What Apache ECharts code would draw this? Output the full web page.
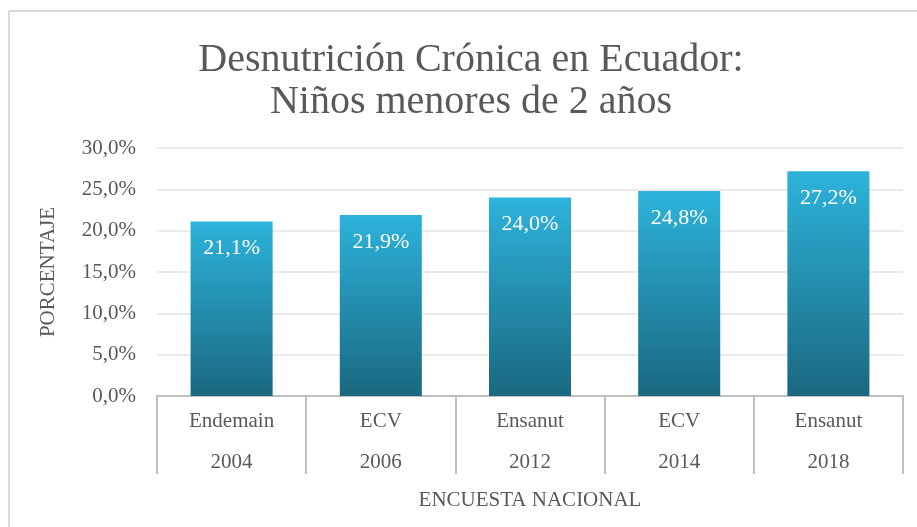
<!DOCTYPE html>
<html>
<head>
<meta charset="utf-8">
<script src="https://cdn.jsdelivr.net/npm/echarts@6/dist/echarts.min.js"></script>
<style>
html,body{margin:0;padding:0;background:#fff;}
#chart{width:917px;height:527px;}
</style>
</head>
<body>
<div id="chart"></div>
<script>
var surveys = ['Endemain', 'ECV', 'Ensanut', 'ECV', 'Ensanut'];
var years = ['2004', '2006', '2012', '2014', '2018'];
var values = [21.1, 21.9, 24.0, 24.8, 27.2];
var yTicks = [0, 5, 10, 15, 20, 25, 30];

var categories = surveys.map(function (s, i) { return s + '\n' + years[i]; });
function pct(v) { return v.toFixed(1).replace('.', ',') + '%'; }

var FONT = '"Liberation Serif", "Times New Roman", serif';
var chart = echarts.init(document.getElementById('chart'), null, {renderer: 'canvas'});
chart.setOption({
  animation: false,
  backgroundColor: '#ffffff',
  title: {
    text: 'Desnutrición Crónica en Ecuador:\nNiños menores de 2 años',
    left: 466,
    textAlign: 'center',
    top: 34,
    textStyle: {fontFamily: FONT, fontSize: 40, fontWeight: 'normal', color: '#595959', lineHeight: 42}
  },
  graphic: [
    {type: 'line', shape: {x1: 9, y1: 11, x2: 917, y2: 11}, style: {stroke: '#D9D9D9', lineWidth: 2}},
    {type: 'line', shape: {x1: 9, y1: 11, x2: 9, y2: 527}, style: {stroke: '#D9D9D9', lineWidth: 2}}
  ],
  grid: {left: 157, right: 14, top: 148, bottom: 131, containLabel: false},
  xAxis: {
    type: 'category',
    data: categories,
    boundaryGap: true,
    name: 'ENCUESTA NACIONAL',
    nameLocation: 'middle',
    nameGap: 94,
    nameTextStyle: {fontFamily: FONT, fontSize: 21, color: '#595959'},
    axisLine: {show: true, lineStyle: {color: '#BFBFBF', width: 2}},
    axisTick: {show: true, length: 78, alignWithLabel: false, interval: 0, lineStyle: {color: '#BFBFBF', width: 2}},
    axisLabel: {interval: 0, margin: 5, fontFamily: FONT, fontSize: 21, color: '#595959', lineHeight: 41}
  },
  yAxis: {
    type: 'value',
    min: yTicks[0],
    max: yTicks[yTicks.length - 1],
    interval: yTicks[1] - yTicks[0],
    name: 'PORCENTAJE',
    nameLocation: 'middle',
    nameGap: 98,
    nameRotate: 90,
    nameTextStyle: {fontFamily: FONT, fontSize: 21, color: '#595959'},
    axisLine: {show: false},
    axisTick: {show: false},
    splitLine: {lineStyle: {color: '#EBEBEB', width: 2}},
    axisLabel: {margin: 21, fontFamily: FONT, fontSize: 21, color: '#595959', formatter: function (v) { return pct(v); }}
  },
  series: [{
    type: 'bar',
    data: values,
    barWidth: '55%',
    itemStyle: {
      color: new echarts.graphic.LinearGradient(0, 0, 0, 1, [
        {offset: 0, color: '#2DB3DB'},
        {offset: 1, color: '#1A6880'}
      ]),
      borderWidth: 0
    },
    label: {
      show: true,
      position: 'insideTop',
      distance: 16,
      fontFamily: FONT,
      fontSize: 22,
      color: '#ffffff',
      formatter: function (p) { return pct(p.value); }
    }
  }]
});
</script>
</body>
</html>
